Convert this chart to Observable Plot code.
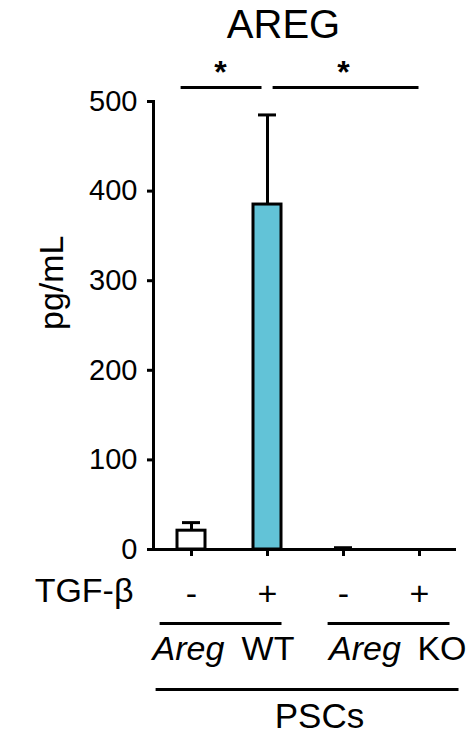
<!DOCTYPE html>
<html><head><meta charset="utf-8">
<script src="https://cdn.jsdelivr.net/npm/d3@7"></script>
<script src="https://cdn.jsdelivr.net/npm/@observablehq/plot@0.6"></script>
<style>
body{margin:0;background:#fff;}
</style>
</head><body><div id="chart"></div>
<script>
// ---- data ----
const categories = ["WT -", "WT +", "KO -", "KO +"];
const tgfLabels = ["-", "+", "-", "+"];
const means = [21, 385, 0, 0];
const errors = [9, 100, 2, 0];
const fills = ["#ffffff", "#62c3d7", "#ffffff", "#ffffff"];
const yTicks = [0, 100, 200, 300, 400, 500];
const geneLabels = ["Areg", "WT", "Areg", "KO"];
const title = "AREG";
const yLabel = "pg/mL";
const rowLabel = "TGF-β";
const cellLabel = "PSCs";
const sigLabel = "*";

const data = categories.map((c, i) => ({cat: c, tgf: tgfLabels[i], mean: means[i], top: means[i] + errors[i], err: errors[i], fill: fills[i]}));
const yMax = yTicks[yTicks.length - 1];
const font = "'Liberation Sans', Arial, sans-serif";

const chart = Plot.plot({
  width: 474,
  height: 747,
  marginLeft: 153,
  marginRight: 18,
  marginTop: 101,
  marginBottom: 198,
  style: {fontFamily: font, fontSize: "28px", color: "black", background: "white", overflow: "visible"},
  x: {domain: categories, type: "band", range: [153.5, 457.5], paddingInner: 0.63, paddingOuter: 0.315},
  y: {domain: [0, yMax]},
  color: {type: "identity"},
  marks: [
    // error bars
    Plot.ruleX(data.filter(d => d.err > 0), {x: "cat", y1: "mean", y2: "top", stroke: "black", strokeWidth: 3}),
    Plot.tickY(data.filter(d => d.err > 0), {x: "cat", y: "top", stroke: "black", strokeWidth: 3, insetLeft: 5, insetRight: 5}),
    // bars
    Plot.barY(data, {x: "cat", y: "mean", fill: "fill", stroke: "black", strokeWidth: 3}),
    // axes
    Plot.axisY({ticks: yTicks, tickSize: 6, tickPadding: 10, strokeWidth: 3, fontSize: 29, label: null}),
    Plot.frame({anchor: "left", strokeWidth: 3}),
    Plot.ruleY([0], {strokeWidth: 3, insetLeft: -5}),
    Plot.axisX({tickSize: 7, strokeWidth: 3, tickFormat: () => "", label: null}),
    // title & y label
    Plot.text([title], {text: d => d, frameAnchor: "top", dx: -21.5, dy: -92, fontSize: 40}),
    Plot.text([yLabel], {text: d => d, frameAnchor: "left", dx: -101, dy: 4.5, rotate: -90, fontSize: 34}),
    // significance brackets
    Plot.ruleY([yMax], {x1: () => categories[0], x2: () => categories[1], dy: -14, strokeWidth: 3, insetLeft: 3.6, insetRight: 19.5}),
    Plot.ruleY([yMax], {x1: () => categories[1], x2: () => categories[3], dy: -14, strokeWidth: 3, insetLeft: 19.6, insetRight: 14.5}),
    Plot.text([sigLabel], {x: () => categories[0], y: () => yMax, text: d => d, dx: 29, dy: -29, fontSize: 32, fontWeight: "bold"}),
    Plot.text([sigLabel], {x: () => categories[2], y: () => yMax, text: d => d, dy: -29, fontSize: 32, fontWeight: "bold"}),
    // TGF-β row
    Plot.text(data, {x: "cat", text: "tgf", frameAnchor: "bottom", dy: 55, fontSize: 34}),
    Plot.text([rowLabel], {text: d => d, frameAnchor: "bottom-left", dx: -20, dy: 52, textAnchor: "end", fontSize: 34}),
    // genotype labels
    Plot.ruleY([0], {x1: () => categories[0], x2: () => categories[1], dy: 74, strokeWidth: 3, insetLeft: -17.4, insetRight: -0.5}),
    Plot.ruleY([0], {x1: () => categories[2], x2: () => categories[3], dy: 74, strokeWidth: 3, insetLeft: -1.4, insetRight: -16.5}),
    Plot.text([0], {x: () => categories[0], text: () => geneLabels[0], frameAnchor: "bottom", dx: -3, dy: 110, fontSize: 34, fontStyle: "italic"}),
    Plot.text([0], {x: () => categories[1], text: () => geneLabels[1], frameAnchor: "bottom", dx: 0.5, dy: 110, fontSize: 34}),
    Plot.text([0], {x: () => categories[2], text: () => geneLabels[2], frameAnchor: "bottom", dx: 21.5, dy: 110, fontSize: 34, fontStyle: "italic"}),
    Plot.text([0], {x: () => categories[3], text: () => geneLabels[3], frameAnchor: "bottom", dx: 22.5, dy: 110, fontSize: 34}),
    // PSCs
    Plot.ruleY([0], {x1: () => categories[0], x2: () => categories[3], dy: 140, strokeWidth: 3, insetLeft: -21.4, insetRight: -25.5}),
    Plot.text([cellLabel], {text: d => d, frameAnchor: "bottom", dx: 14.5, dy: 178, fontSize: 35})
  ]
});
document.getElementById("chart").append(chart);
</script>
</body></html>
